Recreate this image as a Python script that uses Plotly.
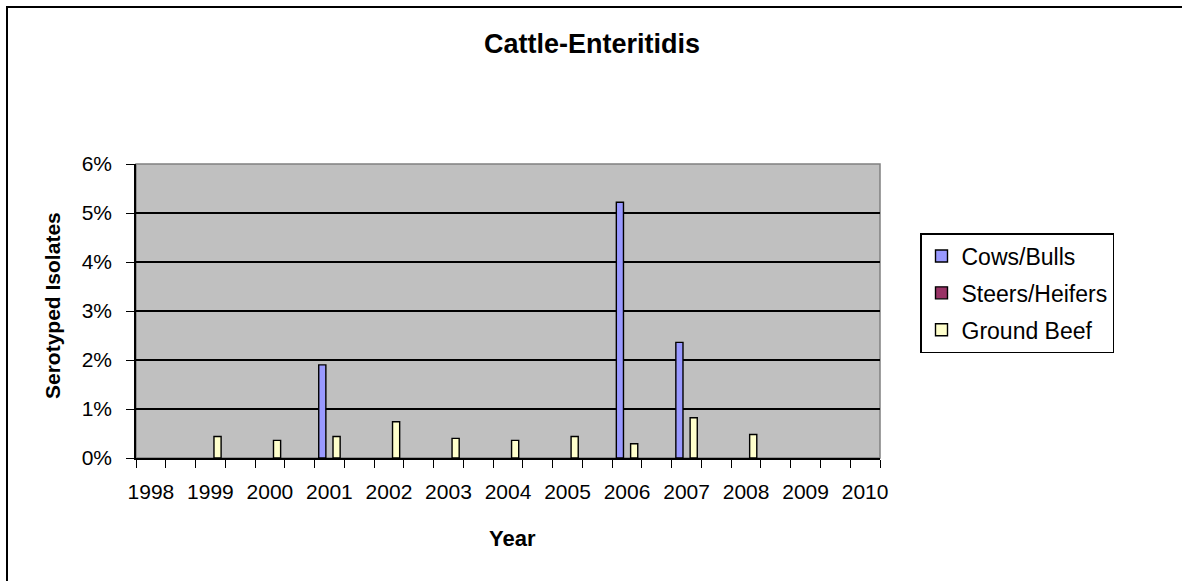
import plotly.graph_objects as go

years = [1998, 1999, 2000, 2001, 2002, 2003, 2004, 2005, 2006, 2007, 2008, 2009, 2010]
cows_bulls = [None, None, None, 0.0190, None, None, None, None, 0.0522, 0.0236, None, None, None]
steers_heifers = [None] * 13
ground_beef = [None, 0.0044, 0.0036, 0.0044, 0.0074, 0.0040, 0.0036, 0.0044, 0.0029, 0.0082, 0.0048, None, None]

series_names = ["Cows/Bulls", "Steers/Heifers", "Ground Beef"]
series_colors = ["#9999FF", "#993366", "#FFFFCC"]
series_values = [cows_bulls, steers_heifers, ground_beef]

W, H = 1182, 581
L, R, T, B = 136, 880, 164, 458

fig = go.Figure()
for name, color, vals in zip(series_names, series_colors, series_values):
    fig.add_trace(go.Bar(
        x=years, y=vals, name=name, legendgroup=name,
        marker=dict(color=color, line=dict(color="black", width=1.4)),
    ))

font = "Arial, Liberation Sans, sans-serif"

def px_x(px):
    return (px - L) / (R - L)

def px_y(py):
    return (B - py) / (B - T)

fig.update_layout(
    width=W, height=H,
    margin=dict(l=L, r=W - R, t=T, b=H - B, autoexpand=False),
    paper_bgcolor="white",
    plot_bgcolor="#C0C0C0",
    barmode="group",
    bargap=0.64,
    bargroupgap=0,
    font=dict(family=font, size=21, color="black"),
    title=dict(text="<b>Cattle-Enteritidis</b>", x=592 / W, xanchor="center",
               y=1 - 44 / H, yanchor="middle", font=dict(size=27)),
    showlegend=True,
    legend=dict(
        x=px_x(920), xanchor="left",
        y=px_y(233), yanchor="top",
        bordercolor="black", borderwidth=1.5, bgcolor="white",
        font=dict(size=23), tracegroupgap=4, traceorder="grouped",
    ),
    xaxis=dict(
        range=[1997.75, 2010.25],
        tickmode="array", tickvals=years, ticktext=[str(y) for y in years],
        ticks="", showgrid=False, zeroline=False,
        showline=True, linecolor="black", linewidth=1.5,
        minor=dict(tickmode="linear", tick0=1997.75, dtick=0.5, ticks="outside",
                   ticklen=8, tickwidth=1.3, tickcolor="black", showgrid=False),
        tickfont=dict(size=21),
        ticklabelstandoff=14,
    ),
    yaxis=dict(
        range=[0, 0.06], dtick=0.01, tickformat=".0%",
        ticks="outside", ticklen=8, tickwidth=1.3, tickcolor="black",
        showgrid=True, gridcolor="black", gridwidth=2,
        zeroline=False, showline=True, linecolor="black", linewidth=1.5,
        tickfont=dict(size=21),
        ticklabelstandoff=10,
    ),
    annotations=[
        dict(text="<b>Serotyped Isolates</b>", xref="paper", yref="paper",
             x=px_x(52), y=px_y(306), textangle=-90,
             showarrow=False, xanchor="center", yanchor="middle", font=dict(size=21)),
        dict(text="<b>Year</b>", xref="paper", yref="paper",
             x=px_x(512), y=px_y(538),
             showarrow=False, xanchor="center", yanchor="middle", font=dict(size=22)),
    ],
    shapes=[
        dict(type="rect", xref="paper", yref="paper", x0=0, x1=1, y0=0, y1=1,
             line=dict(color="#808080", width=1.5), layer="below"),
        dict(type="rect", xref="x domain", yref="y domain",
             x0=px_x(7), x1=px_x(1400), y0=px_y(800), y1=px_y(7),
             line=dict(color="black", width=2), fillcolor="rgba(0,0,0,0)"),
    ],
)

fig.write_html("out.html", config={"displayModeBar": False},
               post_script="document.body.style.margin='0px';")
